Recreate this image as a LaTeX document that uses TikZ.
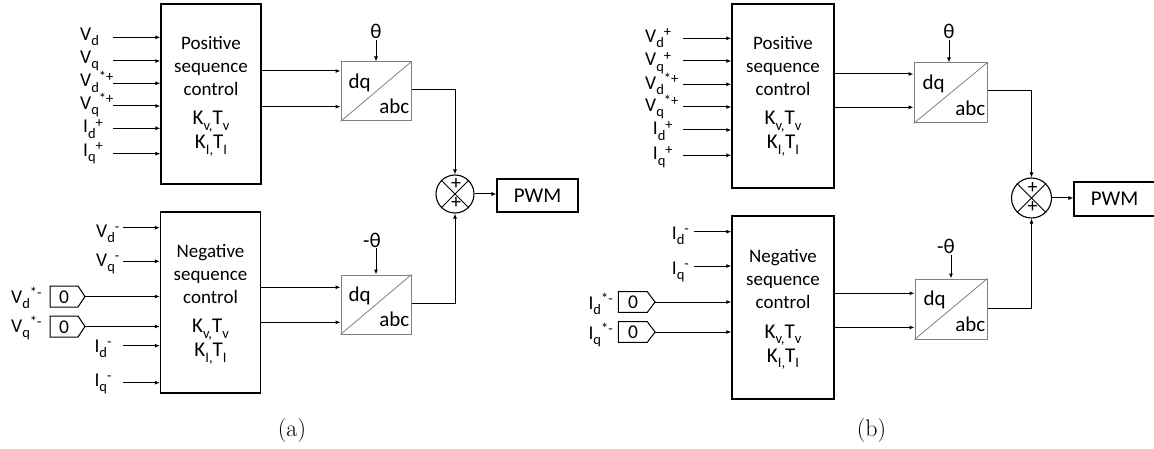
\documentclass[tikz,border=0pt]{standalone}
\usepackage{fontspec}
\newfontfamily\carl{Carlito}
\usetikzlibrary{arrows.meta,calc}
\newcommand\sub[1]{\raisebox{-0.27em}{\fontsize{14.5}{14.5}\selectfont #1}}
\newcommand\supr[1]{\raisebox{0.3em}{\fontsize{14.5}{14.5}\selectfont #1}}
\newcommand\ctrltext[4]{%
  \node[btxt] (#1-1) at (#2,#3) {#4};
  \node[btxt] (#1-2) at (#2,#3+23) {sequence};
  \node[btxt] (#1-3) at (#2,#3+46) {control};
  \node[ktxt] (#1-4) at (#2,#3+75.5) {K\sub{v,}T\sub{v}};
  \node[ktxt] (#1-5) at (#2,#3+99.5) {K\sub{I,}T\sub{I}};
}
\begin{document}
\begin{tikzpicture}[x=1pt,y=-1pt,
  arr/.style={-{Latex[length=5pt,width=4pt]}, line width=1pt},
  ctrl/.style={draw, line width=1.3pt, inner sep=0pt},
  btxt/.style={inner sep=0pt, anchor=base, font=\carl\fontsize{19}{19}\selectfont},
  ktxt/.style={inner sep=0pt, anchor=base, font=\carl\fontsize{21}{21}\selectfont},
  dqbox/.style={draw=black!50, line width=1pt, minimum width=70pt, minimum height=59pt, inner sep=0pt},
  diag/.style={draw=black!50, line width=0.8pt},
  dqtxt/.style={inner sep=0pt, font=\carl\fontsize{21}{21}\selectfont},
  lbl/.style={inner sep=0pt, anchor=base west, font=\carl\fontsize{19.5}{19.5}\selectfont},
  sumc/.style={draw, circle, line width=1.1pt, minimum size=38pt, inner sep=0pt},
  plustxt/.style={inner sep=0pt, font=\carl\fontsize{20}{20}\selectfont},
  pwm/.style={draw, line width=1.1pt, minimum width=81pt, minimum height=33pt, inner sep=0pt, font=\carl\fontsize{21}{21}\selectfont},
  thetatxt/.style={inner sep=1pt, font=\carl\fontsize{21}{21}\selectfont},
  konst/.style={line width=1pt},
  captxt/.style={inner sep=0pt, font=\fontsize{24}{26}\selectfont}
]
\useasboundingbox (0,0) rectangle (1154,449);

%%%%%%%%%%%%%%%% (a) %%%%%%%%%%%%%%%%
\node[ctrl, minimum width=100pt, minimum height=180pt] (posA) at (211,94) {};
\ctrltext{tpa}{211}{49.3}{Positive}
\node[ctrl, minimum width=100pt, minimum height=181pt] (negA) at (210.5,302.5) {};
\ctrltext{tna}{210.5}{257.3}{Negative}

% positive inputs
\foreach \n/\ya/\t/\xl/\yb in {
  1/37.3/{V\sub{d}}/80/40.5,
  2/61/{V\sub{q}}/80/63.5,
  3/83.3/{V\sub{d}\supr{*+}}/80/87,
  4/106/{V\sub{q}\supr{*+}}/80/109.5,
  5/128.3/{I\sub{d}\supr{+}}/83/133,
  6/153.7/{I\sub{q}\supr{+}}/83/156.7}{
  \node[lbl] (la\n) at (\xl,\yb) {\t};
  \coordinate (ia\n) at (113,\ya);
  \draw[arr] (ia\n) -- (posA.west |- ia\n);
}
% negative inputs
\foreach \n/\ya/\t/\xl/\yb in {
  1/227.7/{V\sub{d}\supr{-}}/96/237.3,
  2/261.3/{V\sub{q}\supr{-}}/96/266.7,
  5/345.7/{I\sub{d}\supr{-}}/94.3/352.3,
  6/382.7/{I\sub{q}\supr{-}}/94.3/386.7}{
  \node[lbl] (lna\n) at (\xl,\yb) {\t};
  \coordinate (ina\n) at (123,\ya);
  \draw[arr] (ina\n) -- (negA.west |- ina\n);
}
% constants (a)
\node[lbl] (lna3) at (11,303) {V\sub{d}\supr{*-}};
\node[lbl] (lna4) at (11,332) {V\sub{q}\supr{*-}};
\draw[konst] (50,286) -- (78,286) -- (85,296.5) -- (78,307) -- (50,307) -- cycle;
\draw[konst] (50,316) -- (78,316) -- (85,326.5) -- (78,337) -- (50,337) -- cycle;
\node[lbl, anchor=center] (za1) at (64,297) {0};
\node[lbl, anchor=center] (za2) at (64,327) {0};
\coordinate (ka1) at (85,296.5);
\coordinate (ka2) at (85,326.5);
\draw[arr] (ka1) -- (negA.west |- ka1);
\draw[arr] (ka2) -- (negA.west |- ka2);

% dq boxes (a)
\node[dqbox] (dqA) at (376,91.5) {};
\node[dqbox] (dqAl) at (376,304.5) {};
\foreach \b in {dqA,dqAl}{
  \draw[diag] (\b.south west) -- (\b.north east);
  \node[dqtxt, anchor=base west] (\b-dq) at ($(\b.north west)+(8,27)$) {dq};
  \node[dqtxt, anchor=base east] (\b-abc) at ($(\b.south east)+(-2,-7.7)$) {abc};
}
\draw[arr] (posA.east |- {(0,71)}) -- (dqA.west |- {(0,71)});
\draw[arr] (posA.east |- {(0,106.7)}) -- (dqA.west |- {(0,106.7)});
\draw[arr] (negA.east |- {(0,287.3)}) -- (dqAl.west |- {(0,287.3)});
\draw[arr] (negA.east |- {(0,322.3)}) -- (dqAl.west |- {(0,322.3)});

\node[thetatxt] (thA) at (376,31.5) {θ};
\node[thetatxt] (thAl) at (372,240) {-θ};
\draw[arr] (thA.south) -- (dqA.north);
\draw[arr] (thAl.south -| dqAl.north) -- (dqAl.north);

\node[sumc] (sA) at (455,194) {};
\draw[line width=0.8pt] (sA.north west) -- (sA.south east);
\draw[line width=0.8pt] (sA.north east) -- (sA.south west);
\node[plustxt] (pA1) at ($(sA.center)+(1,-9.5)$) {+};
\node[plustxt] (pA2) at ($(sA.center)+(1,9)$) {+};
\draw[arr] (dqA.east |- {(0,89.3)}) -| (sA.north);
\draw[arr] (dqAl.east |- {(0,303.3)}) -| (sA.south);
\node[pwm] (pwmA) at (537.5,195.5) {PWM};
\draw[arr] (sA.east) -- (pwmA.west |- sA.east);

\node[captxt] (capA) at (292,431) {(a)};

%%%%%%%%%%%%%%%% (b) %%%%%%%%%%%%%%%%
\node[ctrl, minimum width=102pt, minimum height=184pt] (posB) at (783,96) {};
\ctrltext{tpb}{783}{49.3}{Positive}
\node[ctrl, minimum width=102pt, minimum height=183pt] (negB) at (783,307.5) {};
\ctrltext{tnb}{783}{262.7}{Negative}

\foreach \n/\ya/\t/\xl/\yb in {
  1/38.3/{V\sub{d}\supr{+}}/645/42.7,
  2/61/{V\sub{q}\supr{+}}/645/66,
  3/84.3/{V\sub{d}\supr{*+}}/645/89.3,
  4/107/{V\sub{q}\supr{*+}}/645/111.5,
  5/130/{I\sub{d}\supr{+}}/652.7/135,
  6/155.3/{I\sub{q}\supr{+}}/652.7/160}{
  \node[lbl] (lb\n) at (\xl,\yb) {\t};
  \coordinate (ib\n) at (683,\ya);
  \draw[arr] (ib\n) -- (posB.west |- ib\n);
}
\foreach \n/\ya/\t/\xl/\yb in {
  1/231.7/{I\sub{d}\supr{-}}/671.7/239.3,
  2/266/{I\sub{q}\supr{-}}/671.7/274}{
  \node[lbl] (lnb\n) at (\xl,\yb) {\t};
  \coordinate (inb\n) at (694,\ya);
  \draw[arr] (inb\n) -- (negB.west |- inb\n);
}
\node[lbl] (lnb3) at (588.3,309) {I\sub{d}\supr{*-}};
\node[lbl] (lnb4) at (588.3,339) {I\sub{q}\supr{*-}};
\draw[konst] (618.3,291.7) -- (647.3,291.7) -- (655,302) -- (647.3,312.3) -- (618.3,312.3) -- cycle;
\draw[konst] (618.3,321.7) -- (647.3,321.7) -- (655,332) -- (647.3,342.3) -- (618.3,342.3) -- cycle;
\node[lbl, anchor=center] (zb1) at (633,302.5) {0};
\node[lbl, anchor=center] (zb2) at (633,332.5) {0};
\coordinate (kb1) at (655,302);
\coordinate (kb2) at (655,332);
\draw[arr] (kb1) -- (negB.west |- kb1);
\draw[arr] (kb2) -- (negB.west |- kb2);

\node[dqbox, minimum width=73pt, minimum height=60pt] (dqB) at (950.5,93) {};
\node[dqbox, minimum width=72pt, minimum height=60pt] (dqBl) at (951,309) {};
\foreach \b in {dqB,dqBl}{
  \draw[diag] (\b.south west) -- (\b.north east);
  \node[dqtxt, anchor=base west] (\b-dq) at ($(\b.north west)+(9,27)$) {dq};
  \node[dqtxt, anchor=base east] (\b-abc) at ($(\b.south east)+(-2,-8)$) {abc};
}
\draw[arr] (posB.east |- {(0,74)}) -- (dqB.west |- {(0,74)});
\draw[arr] (posB.east |- {(0,107.3)}) -- (dqB.west |- {(0,107.3)});
\draw[arr] (negB.east |- {(0,293.3)}) -- (dqBl.west |- {(0,293.3)});
\draw[arr] (negB.east |- {(0,327.5)}) -- (dqBl.west |- {(0,327.5)});

\node[thetatxt] (thB) at (949,31.5) {θ};
\node[thetatxt] (thBl) at (946,246.5) {-θ};
\draw[arr] (thB.south) -- (dqB.north -| thB.south);
\draw[arr] (thBl.south -| dqBl.north) -- (dqBl.north);

\node[sumc, minimum size=40pt] (sB) at (1031.5,198) {};
\draw[line width=0.8pt] (sB.north west) -- (sB.south east);
\draw[line width=0.8pt] (sB.north east) -- (sB.south west);
\node[plustxt] (pB1) at ($(sB.center)+(1,-10)$) {+};
\node[plustxt] (pB2) at ($(sB.center)+(1,9.5)$) {+};
\draw[arr] (dqB.east |- {(0,90.7)}) -| (sB.north);
\draw[arr] (dqBl.east |- {(0,308.3)}) -| (sB.south);
\node[pwm, minimum height=34pt] (pwmB) at (1114.5,199) {PWM};
\draw[arr] (sB.east) -- (pwmB.west |- sB.east);

\node[captxt] (capB) at (871.5,431) {(b)};
\end{tikzpicture}
\end{document}
